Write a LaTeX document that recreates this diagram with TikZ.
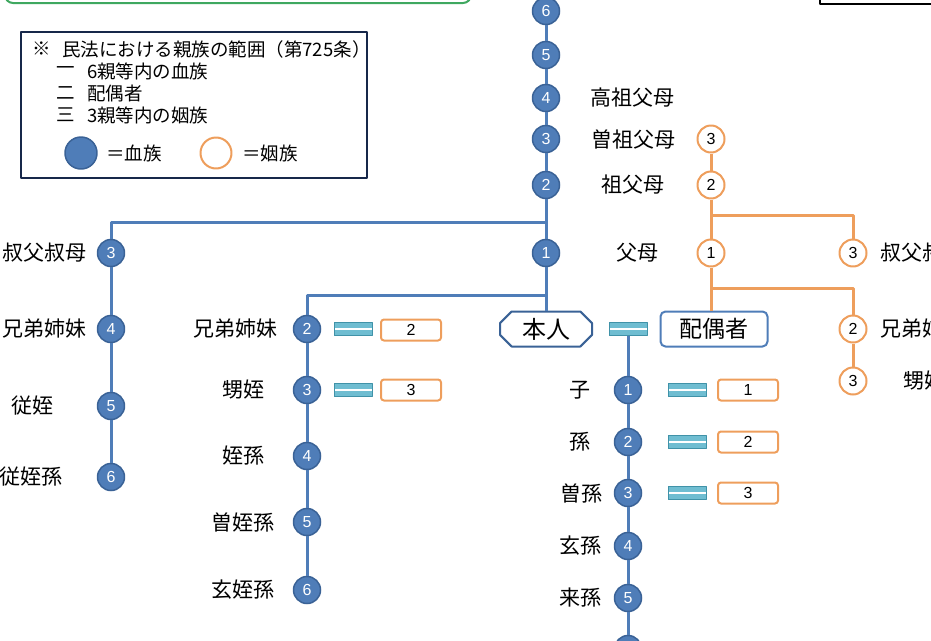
\documentclass[tikz,border=0pt]{standalone}
\usepackage{fontspec}
\setmainfont{Noto Sans CJK JP}
\newfontfamily\numfont{Liberation Sans}
\usetikzlibrary{shapes.misc}
\definecolor{ketsu}{HTML}{4F7DB8}
\definecolor{ketsuedge}{HTML}{3A6296}
\definecolor{inzoku}{HTML}{EE9E5C}
\definecolor{eqcol}{HTML}{4BACC6}
\definecolor{navy}{HTML}{17284A}
\definecolor{frame}{HTML}{3FA860}
\tikzset{
  blood/.style={circle,fill=ketsu,draw=ketsuedge,line width=1.5pt,minimum size=27pt,inner sep=0pt,text=white,font=\numfont\fontsize{16}{16}\selectfont},
  inlaw/.style={circle,fill=white,draw=inzoku,line width=2pt,minimum size=27pt,inner sep=0pt,font=\numfont\fontsize{16}{16}\selectfont},
  bline/.style={ketsu,line width=3pt},
  oline/.style={inzoku,line width=3pt},
  lbl/.style={font=\fontsize{21}{21}\selectfont},
  legtxt/.style={font=\fontsize{18.5}{18.5}\selectfont,inner sep=0pt},
  obox/.style={draw=inzoku,rounded corners=3pt,line width=2pt,minimum width=60pt,minimum height=21pt,inner sep=0pt,font=\numfont\fontsize{16}{16}\selectfont},
  eqsign/.style={minimum width=38pt,minimum height=13pt,inner sep=0pt,fill=eqcol!80,draw=eqcol!85!black,line width=.8pt,
    path picture={\draw[white,line width=2.5pt](path picture bounding box.west)--(path picture bounding box.east);}}
}
\begin{document}
\begin{tikzpicture}[x=1pt,y=-1pt,line join=round]
\useasboundingbox (0,0) rectangle (931,640);
\clip (0,0) rectangle (931,640);
\draw[frame,line width=2pt,rounded corners=8pt](5,-40) rectangle (471,3);
\draw[line width=2pt](820,-40) rectangle (960,4);
% legend
\draw[navy,line width=2.5pt](21,32) rectangle (367,178);
\node[legtxt,anchor=west] (kome) at (32,49) {※};
\node[legtxt,anchor=west] (ttl) at (62,49) {民法における親族の範囲（第725条）};
\foreach \k/\t/\y in {一/6親等内の血族/71,二/配偶者/93,三/3親等内の姻族/115}{
  \node[legtxt,anchor=west] at (56,\y) {\k};
  \node[legtxt,anchor=west] at (87,\y) {\t};
}
\node[blood,minimum size=32pt] (lgb) at (81,153) {};
\node[legtxt,anchor=west] (lgbt) at (106,153) {＝血族};
\node[inlaw,minimum size=31pt] (lgo) at (216,153) {};
\node[legtxt,anchor=west] (lgot) at (242,153) {＝姻族};
% blood relatives
\node[draw=ketsuedge,line width=2pt,chamfered rectangle,chamfered rectangle xsep=8pt,minimum width=92pt,minimum height=35pt,inner sep=0pt,font=\fontsize{24}{24}\selectfont] (self) at (546,329) {本人};
\foreach \n/\y in {1/253,2/185,3/139,4/98,5/55,6/11}
  \node[blood] (a\n) at (546,\y) {\n};
\foreach \n/\y in {3/253,4/329,5/406,6/477}
  \node[blood] (u\n) at (111,\y) {\n};
\foreach \n/\y in {2/329,3/390,4/456,5/522,6/590}
  \node[blood] (s\n) at (307,\y) {\n};
\foreach \n/\y in {1/390,2/442,3/493,4/546,5/598,6/649}
  \node[blood] (c\n) at (628,\y) {\n};
\draw[bline](a6)--(a5) (a5)--(a4) (a4)--(a3) (a3)--(a2) (a2)--(a1) (a1)--(self);
\coordinate (bru) at (546,222);
\coordinate (brs) at (546,295);
\draw[bline](bru)-|(u3);
\draw[bline](u3)--(u4) (u4)--(u5) (u5)--(u6);
\draw[bline](brs)-|(s2);
\draw[bline](s2)--(s3) (s3)--(s4) (s4)--(s5) (s5)--(s6);
% spouse
\node[eqsign] (eq0) at (628,329) {};
\node[draw=ketsu,line width=2pt,rounded corners=5pt,minimum width=107pt,minimum height=35pt,inner sep=0pt,font=\fontsize{23}{23}\selectfont] (spouse) at (714,329) {配偶者};
\draw[bline](eq0)--(c1) (c1)--(c2) (c2)--(c3) (c3)--(c4) (c4)--(c5) (c5)--(c6);
\node[eqsign] (eqs2) at (353,329) {};
\node[eqsign] (eqs3) at (353,390) {};
\node[obox] (bs2) at (411,330) {2};
\node[obox] (bs3) at (411,390) {3};
\foreach \n/\y in {1/390,2/442,3/493}{
  \node[eqsign] (eqc\n) at (687,\y) {};
  \node[obox] (bc\n) at (748,\y) {\n};
}
% in-laws
\node[inlaw] (p3) at (711,139) {3};
\node[inlaw] (p2) at (711,185) {2};
\node[inlaw] (p1) at (711,253) {1};
\node[inlaw] (pu) at (853,253) {3};
\node[inlaw] (ps2) at (853,329) {2};
\node[inlaw] (ps3) at (853,381) {3};
\draw[oline](p3)--(p2) (p2)--(p1) (p1)--(spouse.north-|p1);
\coordinate (bro) at (711,215);
\coordinate (brp) at (711,288);
\draw[oline](bro)-|(pu);
\draw[oline](brp)-|(ps2);
\draw[oline](ps2)--(ps3);
% labels
\node[lbl] at (632,98) {高祖父母};
\node[lbl] at (633,139) {曽祖父母};
\node[lbl] at (633,185) {祖父母};
\node[lbl] at (637,253) {父母};
\node[lbl,anchor=east] at (90,253) {叔父叔母};
\node[lbl,anchor=east] at (90,329) {兄弟姉妹};
\node[lbl] at (33,406) {従姪};
\node[lbl] at (31,477) {従姪孫};
\node[lbl] at (235,329) {兄弟姉妹};
\node[lbl] at (243,390) {甥姪};
\node[lbl] at (243,456) {姪孫};
\node[lbl] at (243,522) {曽姪孫};
\node[lbl] at (243,590) {玄姪孫};
\node[lbl] at (580,390) {子};
\node[lbl] at (580,442) {孫};
\node[lbl] at (581,493) {曽孫};
\node[lbl] at (580,546) {玄孫};
\node[lbl] at (580,598) {来孫};
\node[lbl] at (580,652) {昆孫};
\node[lbl,anchor=west] at (877,253) {叔父叔母};
\node[lbl,anchor=west] at (877,329) {兄弟姉妹};
\node[lbl,anchor=west] at (900,381) {甥姪};
\end{tikzpicture}
\end{document}
